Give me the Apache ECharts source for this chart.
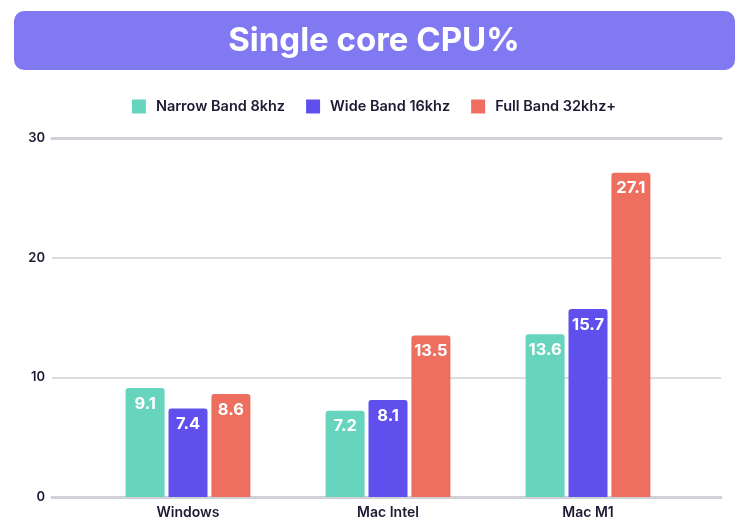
<!DOCTYPE html>
<html>
<head>
<meta charset="utf-8">
<script src="https://cdn.jsdelivr.net/npm/echarts@6/dist/echarts.min.js"></script>
<style>html,body{margin:0;padding:0;background:#fff}#c{width:748px;height:528px}</style>
</head>
<body>
<div id="c"></div>
<script>
const categories = ['Windows', 'Mac Intel', 'Mac M1'];
const seriesNames = ['Narrow Band 8khz', 'Wide Band 16khz', 'Full Band 32khz+'];
const narrowBand = [9.1, 7.2, 13.6];
const wideBand = [7.4, 8.1, 15.7];
const fullBand = [8.6, 13.5, 27.1];
const yTicks = [0, 10, 20, 30];

const colors = ['#67D5BD', '#5F50EE', '#EE6F60'];
const FONT = 'Inter, "Noto Sans", sans-serif';
const dark = '#1c1b33';
const gridGray = '#cfd1d6';

const chart = echarts.init(document.getElementById('c'));
const mk = (name, data, i) => ({
  name, type: 'bar', data, xAxisIndex: 1, yAxisIndex: 1,
  barWidth: 39, barGap: '10%',
  itemStyle: { color: colors[i], borderRadius: [3, 3, 0, 0] },
  label: { show: true, position: 'insideTop', distance: 7, color: '#fff',
    fontFamily: FONT, fontWeight: 700, fontSize: 16.5 }
});
chart.setOption({
  animation: false,
  color: colors,
  graphic: [
    { type: 'rect', shape: { x: 14, y: 11, width: 721, height: 59, r: 10 }, style: { fill: '#8179F2' } },
    { type: 'text', x: 374, y: 41, style: { text: 'Single core CPU%', fill: '#fff', font: '700 33px ' + FONT, align: 'center', verticalAlign: 'middle' } }
  ],
  legend: {
    top: 94, left: 'center', itemWidth: 14, itemHeight: 14, itemGap: 21,
    icon: 'rect',
    textStyle: { fontFamily: FONT, fontWeight: 600, fontSize: 14.5, color: dark, padding: [0, 0, 0, 5] },
    data: seriesNames
  },
  grid: [
    { left: 52, right: 27, top: 138, bottom: 31 },
    { left: 88, width: 600, top: 138, bottom: 31 }
  ],
  xAxis: [
    { type: 'category', gridIndex: 0, data: [''], position: 'bottom', axisLine: { show: true, lineStyle: { color: gridGray, width: 3 } }, axisTick: { show: false }, axisLabel: { show: false } },
    { type: 'category', gridIndex: 1, data: categories, axisLine: { show: false }, axisTick: { show: false },
      axisLabel: { fontFamily: FONT, fontWeight: 600, fontSize: 14, color: dark, margin: 9 } },
    { type: 'category', gridIndex: 0, data: [''], position: 'top', axisLine: { show: true, lineStyle: { color: gridGray, width: 3 } }, axisTick: { show: false }, axisLabel: { show: false } }
  ],
  yAxis: [
    { type: 'value', gridIndex: 0, min: yTicks[0], max: yTicks[yTicks.length - 1], interval: 10,
      axisLine: { show: false }, axisTick: { show: false },
      splitLine: { lineStyle: { color: gridGray, width: 1.5 } },
      axisLabel: { fontFamily: FONT, fontWeight: 600, fontSize: 13, color: dark, margin: 7, verticalAlign: 'middle' } },
    { type: 'value', gridIndex: 1, min: yTicks[0], max: yTicks[yTicks.length - 1], interval: 10, show: false }
  ],
  series: [mk(seriesNames[0], narrowBand, 0), mk(seriesNames[1], wideBand, 1), mk(seriesNames[2], fullBand, 2)]
});
</script>
</body>
</html>
